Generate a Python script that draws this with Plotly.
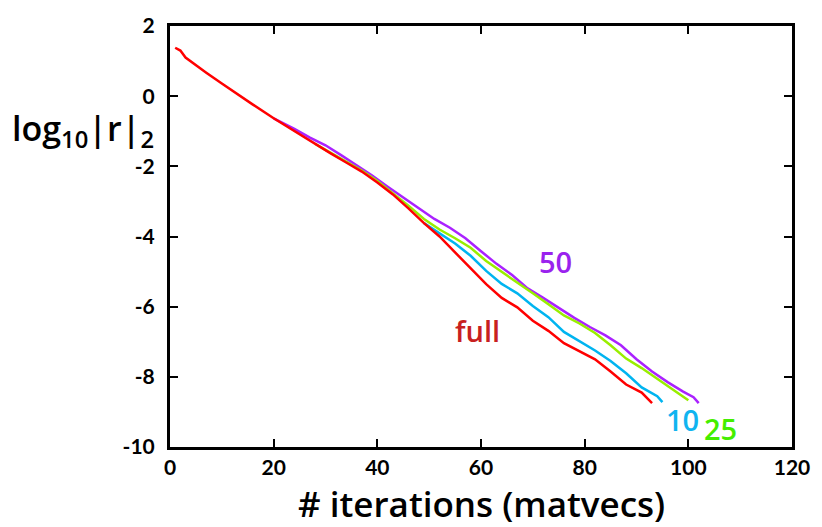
import plotly.graph_objects as go

# ---- data ----
full_x = [1, 2, 3, 5, 7, 10, 13, 16, 20, 24, 28, 31, 34, 37, 40, 43, 46, 49, 52, 55, 58, 61, 64, 67, 70, 73, 76, 79, 82, 85, 88, 91, 93]
full_y = [1.38, 1.3, 1.1, 0.88, 0.67, 0.36, 0.05, -0.24, -0.63, -1.0, -1.36, -1.63, -1.89, -2.15, -2.46, -2.8, -3.2, -3.62, -4.0, -4.45, -4.93, -5.36, -5.75, -6.02, -6.4, -6.69, -7.04, -7.28, -7.5, -7.85, -8.22, -8.45, -8.75]

r10_x = [49, 52, 55, 58, 61, 64, 67, 70, 73, 76, 79, 82, 85, 88, 91, 93, 94, 95]
r10_y = [-3.62, -3.92, -4.2, -4.55, -4.98, -5.35, -5.62, -5.98, -6.3, -6.72, -6.98, -7.25, -7.55, -7.9, -8.3, -8.48, -8.55, -8.72]

r25_x = [28, 31, 34, 37, 40, 43, 46, 49, 52, 55, 58, 61, 64, 67, 70, 73, 76, 79, 82, 85, 88, 91, 94, 97, 100]
r25_y = [-1.36, -1.62, -1.87, -2.12, -2.42, -2.76, -3.12, -3.5, -3.8, -4.05, -4.32, -4.7, -5.0, -5.32, -5.62, -5.93, -6.25, -6.48, -6.75, -7.1, -7.48, -7.75, -8.06, -8.38, -8.67]

r50_x = [20, 22, 24, 27, 30, 33, 36, 39, 42, 45, 48, 51, 54, 57, 60, 63, 66, 69, 72, 75, 78, 81, 84, 87, 90, 93, 96, 99, 101, 102]
r50_y = [-0.63, -0.78, -0.93, -1.18, -1.4, -1.68, -1.96, -2.26, -2.58, -2.88, -3.2, -3.5, -3.75, -4.05, -4.42, -4.78, -5.1, -5.48, -5.75, -6.04, -6.32, -6.58, -6.82, -7.1, -7.5, -7.85, -8.15, -8.42, -8.58, -8.75]

x_ticks = [0, 20, 40, 60, 80, 100, 120]
y_ticks = [2, 0, -2, -4, -6, -8, -10]
y_tick_text = ["2", "0", "-2", "-4", "-6", "-8", "-10"]

labels = ["50", "25", "10", "full"]
label_x = [74.3, 106.3, 98.9, 59.4]
label_y = [-4.71, -9.47, -9.23, -6.69]
label_col = ["#9a22ee", "#44ee00", "#10b4f0", "#c82020"]

FONT = "Lato"
TFONT = "Open Sans"

fig = go.Figure()
series = [
    (r50_x, r50_y, "#aa22ff"),
    (r25_x, r25_y, "#99ee00"),
    (r10_x, r10_y, "#00b4f0"),
    (full_x, full_y, "#ff0000"),
]
for xs, ys, c in series:
    fig.add_trace(go.Scatter(x=xs, y=ys, mode="lines",
                             line=dict(color=c, width=2.5), showlegend=False,
                             hoverinfo="skip"))

for t, xx, yy, c in zip(labels, label_x, label_y, label_col):
    fig.add_annotation(x=xx, y=yy, text=t, showarrow=False,
                       font=dict(family=TFONT, size=29, color=c, weight=600),
                       xanchor="center", yanchor="middle")

fig.add_annotation(xref="paper", yref="paper", x=0.5, y=-0.134,
                   text="# iterations (matvecs)", showarrow=False,
                   font=dict(family=TFONT, size=35, color="black", weight=600),
                   xanchor="center", yanchor="middle")
fig.add_annotation(xref="paper", yref="paper", x=-0.258, y=0.752,
                   text="log<sub>10</sub>|r|<sub>2</sub>", showarrow=False,
                   font=dict(family=TFONT, size=34, color="black", weight=600),
                   xanchor="left", yanchor="middle")

axis_common = dict(showgrid=False, zeroline=False, showline=True,
                   linecolor="black", linewidth=3, mirror="ticks",
                   ticks="inside", ticklen=8, tickwidth=2, tickcolor="black",
                   tickfont=dict(family=FONT, size=21, color="black", weight="bold"))

fig.update_xaxes(range=[0, 120], tickvals=x_ticks, **axis_common)
fig.update_yaxes(range=[-10, 2], tickvals=y_ticks, ticktext=y_tick_text,
                 ticklabelstandoff=8, **axis_common)

fig.update_layout(width=822, height=527,
                  margin=dict(l=170, r=22, t=23, b=80),
                  paper_bgcolor="white", plot_bgcolor="white")

fig.write_html("out.html")
